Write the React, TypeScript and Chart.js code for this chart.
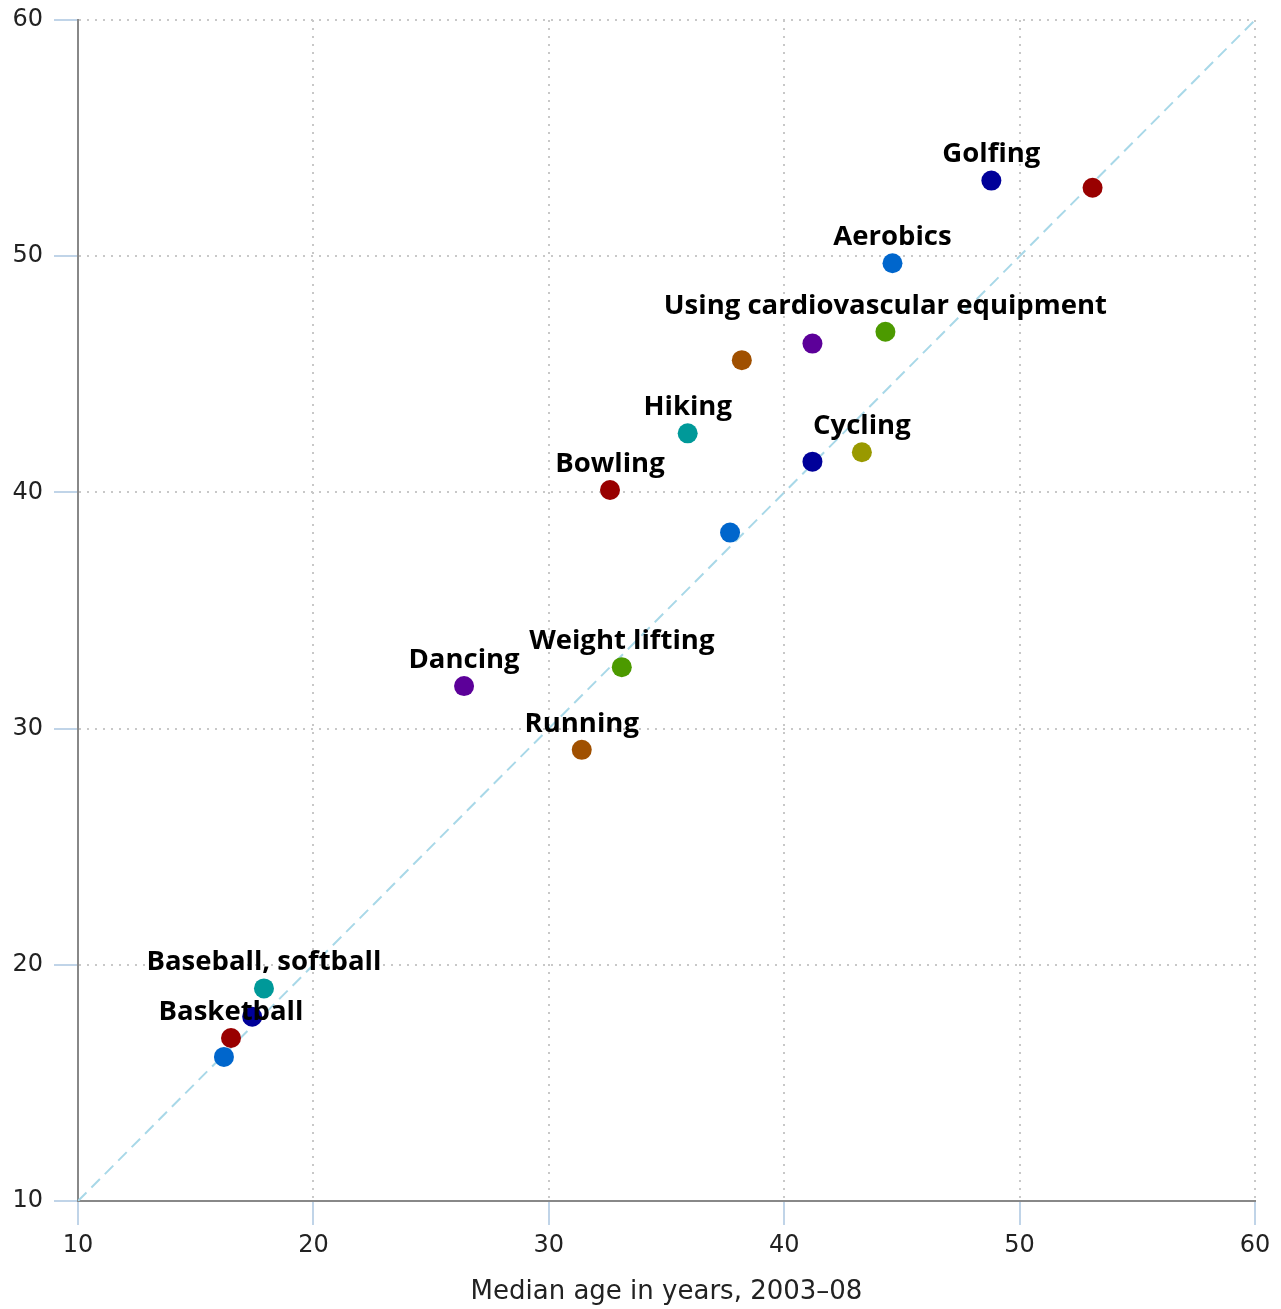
import React, { useEffect, useRef } from "react";
import { Chart, registerables } from "chart.js";

Chart.register(...registerables);

const sportLabels = [
  "Golfing", "", "Aerobics", "Using cardiovascular equipment", "", "",
  "Hiking", "Cycling", "", "Bowling", "", "Weight lifting", "Dancing",
  "Running", "Baseball, softball", "", "Basketball", "",
];
const medianAgeX = [48.8, 53.1, 44.6, 44.3, 41.2, 38.2, 35.9, 43.3, 41.2, 32.6, 37.7, 33.1, 26.4, 31.4, 17.9, 17.4, 16.5, 16.2];
const medianAgeY = [53.2, 52.9, 49.7, 46.8, 46.3, 45.6, 42.5, 41.7, 41.3, 40.1, 38.3, 32.6, 31.8, 29.1, 19.0, 17.8, 16.9, 16.1];
const pointColors = [
  "#000099", "#990000", "#0066cc", "#4c9a00", "#5c0099", "#a05000",
  "#009999", "#999900", "#000099", "#990000", "#0066cc", "#4c9a00",
  "#5c0099", "#a05000", "#009999", "#000099", "#990000", "#0066cc",
];
const diagonalX = [10, 60];
const diagonalY = [10, 60];
const tickValues = [10, 20, 30, 40, 50, 60];
const xTitle = "Median age in years, 2003–08";

const LABEL_FONT = "'Open Sans', 'Noto Sans', sans-serif";
const AXIS_FONT = "'DejaVu Sans', sans-serif";

const labelPlugin = {
  id: "pointLabels",
  afterDatasetsDraw(chart: any) {
    const ctx = chart.ctx;
    const xs = chart.scales.x;
    const ys = chart.scales.y;
    ctx.save();
    ctx.font = `bold 27.5px ${LABEL_FONT}`;
    ctx.fillStyle = "#000";
    ctx.textAlign = "center";
    ctx.textBaseline = "middle";
    sportLabels.forEach((lab, i) => {
      if (!lab) return;
      const px = xs.getPixelForValue(medianAgeX[i]);
      const py = ys.getPixelForValue(medianAgeY[i]);
      ctx.fillText(lab, px, py - 26);
    });
    ctx.restore();
  },
};

export default function App() {
  const ref = useRef<HTMLCanvasElement>(null);
  useEffect(() => {
    const canvas = ref.current!;
    const gridOpts = {
      color: "#c8c8c8",
      lineWidth: 2,
      tickBorderDash: [],
      tickColor: "#c0d4e8",
      tickLength: 24,
      tickWidth: 2,
      drawTicks: true,
    };
    const borderOpts = { display: true, color: "#888888", width: 2, dash: [2, 6] };
    const chart = new Chart(canvas, {
      type: "scatter",
      data: {
        datasets: [
          {
            type: "scatter",
            data: medianAgeX.map((x, i) => ({ x, y: medianAgeY[i] })),
            backgroundColor: pointColors,
            borderWidth: 0,
            pointRadius: 10,
            pointHoverRadius: 10,
          } as any,
          {
            type: "line",
            data: diagonalX.map((x, i) => ({ x, y: diagonalY[i] })),
            borderColor: "#a8d8e8",
            borderWidth: 2,
            borderDash: [12, 7],
            pointRadius: 0,
            fill: false,
          } as any,
        ],
      },
      options: {
        responsive: false,
        animation: false,
        devicePixelRatio: 1,
        layout: { padding: { top: 20, right: 26, left: 0, bottom: 0 } },
        plugins: { legend: { display: false }, tooltip: { enabled: false } },
        scales: {
          x: {
            type: "linear",
            min: 10,
            max: 60,
            afterBuildTicks: (s: any) => { s.ticks = tickValues.map((v) => ({ value: v })); },
            afterFit: (s: any) => { s.height = 108; s.paddingLeft = 0; s.paddingRight = 0; },
            grid: gridOpts as any,
            border: borderOpts as any,
            ticks: { color: "#222", font: { family: AXIS_FONT, size: 24 }, padding: 6, maxRotation: 0 },
            title: {
              display: true,
              text: xTitle,
              color: "#222",
              font: { family: AXIS_FONT, size: 26 },
              padding: { top: 0, bottom: 1 },
            },
          },
          y: {
            type: "linear",
            min: 10,
            max: 60,
            afterBuildTicks: (s: any) => { s.ticks = tickValues.map((v) => ({ value: v })); },
            afterFit: (s: any) => { s.width = 78; s.paddingTop = 0; s.paddingBottom = 0; },
            grid: gridOpts as any,
            border: borderOpts as any,
            ticks: { color: "#222", font: { family: AXIS_FONT, size: 24 }, padding: 11 },
          },
        },
      },
      plugins: [labelPlugin],
    });
    return () => chart.destroy();
  }, []);
  return (
    <div style={{ position: "absolute", left: 0, top: 0, width: 1281, height: 1309, background: "#fff" }}>
      <canvas ref={ref} width={1281} height={1309} style={{ display: "block" }} />
    </div>
  );
}
